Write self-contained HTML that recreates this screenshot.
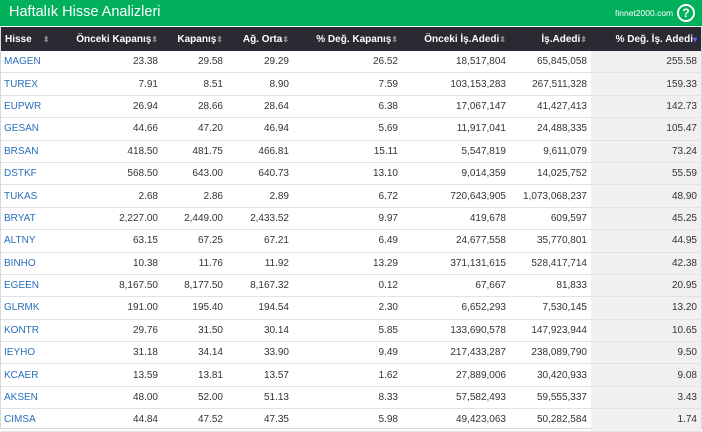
<!DOCTYPE html>
<html><head><meta charset="utf-8"><style>
body{margin:0;width:702px;height:431px;background:#fff;font-family:"Liberation Sans",Arial,sans-serif;overflow:hidden}
.box{position:absolute;left:0;top:0;width:700px;height:428px;border:1px solid #d8d8d8;border-top:none}
.top{position:absolute;left:0;top:0;width:702px;height:26px;background:#00b05a;color:#fff}
.top .t{position:absolute;left:9px;top:4px;font-size:14.5px}
.top .s{position:absolute;left:615px;top:8px;font-size:8.5px}
.top .q{position:absolute;left:677px;top:4px;width:14px;height:14px;border:2px solid #fff;border-radius:50%;font-size:12px;font-weight:bold;text-align:center;line-height:14px}
table{position:absolute;left:1px;top:27px;width:700px;border-collapse:collapse;font-size:10px;color:#333}
th{background:#2b2a33;color:#fff;height:24px;font-weight:bold;text-align:right;padding:0 4px;white-space:nowrap;font-size:10px}
th:first-child{text-align:left}
td{height:21.4px;border-bottom:1px solid #e2e2e2;text-align:right;padding:0 4px;white-space:nowrap}
td:first-child{text-align:left;color:#2a6ebb;padding-left:3px}
td:last-child{background:#f0f0f0}
.a{color:#888;font-size:8px}
</style></head><body>
<div class="box"></div>
<div class="top"><span class="t">Haftalık Hisse Analizleri</span><span class="s">finnet2000.com</span><span class="q">?</span></div>
<table>
<colgroup><col style="width:58px"><col style="width:103px"><col style="width:65px"><col style="width:66px"><col style="width:109px"><col style="width:108px"><col style="width:81px"><col style="width:110px"></colgroup>
<tr><th>Hisse &nbsp;&nbsp;&nbsp;<span class="a">⬍</span></th><th>Önceki Kapanış<span class="a">⬍</span></th><th>Kapanış<span class="a">⬍</span></th><th>Ağ. Orta<span class="a">⬍</span></th><th>% Değ. Kapanış<span class="a">⬍</span></th><th>Önceki İş.Adedi<span class="a">⬍</span></th><th>İş.Adedi<span class="a">⬍</span></th><th>% Değ. İş. Adedi<span style="color:#66f;font-size:8px">▾</span></th></tr>
<tr><td>MAGEN</td><td>23.38</td><td>29.58</td><td>29.29</td><td>26.52</td><td>18,517,804</td><td>65,845,058</td><td>255.58</td></tr>
<tr><td>TUREX</td><td>7.91</td><td>8.51</td><td>8.90</td><td>7.59</td><td>103,153,283</td><td>267,511,328</td><td>159.33</td></tr>
<tr><td>EUPWR</td><td>26.94</td><td>28.66</td><td>28.64</td><td>6.38</td><td>17,067,147</td><td>41,427,413</td><td>142.73</td></tr>
<tr><td>GESAN</td><td>44.66</td><td>47.20</td><td>46.94</td><td>5.69</td><td>11,917,041</td><td>24,488,335</td><td>105.47</td></tr>
<tr><td>BRSAN</td><td>418.50</td><td>481.75</td><td>466.81</td><td>15.11</td><td>5,547,819</td><td>9,611,079</td><td>73.24</td></tr>
<tr><td>DSTKF</td><td>568.50</td><td>643.00</td><td>640.73</td><td>13.10</td><td>9,014,359</td><td>14,025,752</td><td>55.59</td></tr>
<tr><td>TUKAS</td><td>2.68</td><td>2.86</td><td>2.89</td><td>6.72</td><td>720,643,905</td><td>1,073,068,237</td><td>48.90</td></tr>
<tr><td>BRYAT</td><td>2,227.00</td><td>2,449.00</td><td>2,433.52</td><td>9.97</td><td>419,678</td><td>609,597</td><td>45.25</td></tr>
<tr><td>ALTNY</td><td>63.15</td><td>67.25</td><td>67.21</td><td>6.49</td><td>24,677,558</td><td>35,770,801</td><td>44.95</td></tr>
<tr><td>BINHO</td><td>10.38</td><td>11.76</td><td>11.92</td><td>13.29</td><td>371,131,615</td><td>528,417,714</td><td>42.38</td></tr>
<tr><td>EGEEN</td><td>8,167.50</td><td>8,177.50</td><td>8,167.32</td><td>0.12</td><td>67,667</td><td>81,833</td><td>20.95</td></tr>
<tr><td>GLRMK</td><td>191.00</td><td>195.40</td><td>194.54</td><td>2.30</td><td>6,652,293</td><td>7,530,145</td><td>13.20</td></tr>
<tr><td>KONTR</td><td>29.76</td><td>31.50</td><td>30.14</td><td>5.85</td><td>133,690,578</td><td>147,923,944</td><td>10.65</td></tr>
<tr><td>IEYHO</td><td>31.18</td><td>34.14</td><td>33.90</td><td>9.49</td><td>217,433,287</td><td>238,089,790</td><td>9.50</td></tr>
<tr><td>KCAER</td><td>13.59</td><td>13.81</td><td>13.57</td><td>1.62</td><td>27,889,006</td><td>30,420,933</td><td>9.08</td></tr>
<tr><td>AKSEN</td><td>48.00</td><td>52.00</td><td>51.13</td><td>8.33</td><td>57,582,493</td><td>59,555,337</td><td>3.43</td></tr>
<tr><td>CIMSA</td><td>44.84</td><td>47.52</td><td>47.35</td><td>5.98</td><td>49,423,063</td><td>50,282,584</td><td>1.74</td></tr>
</table>
</body></html>
